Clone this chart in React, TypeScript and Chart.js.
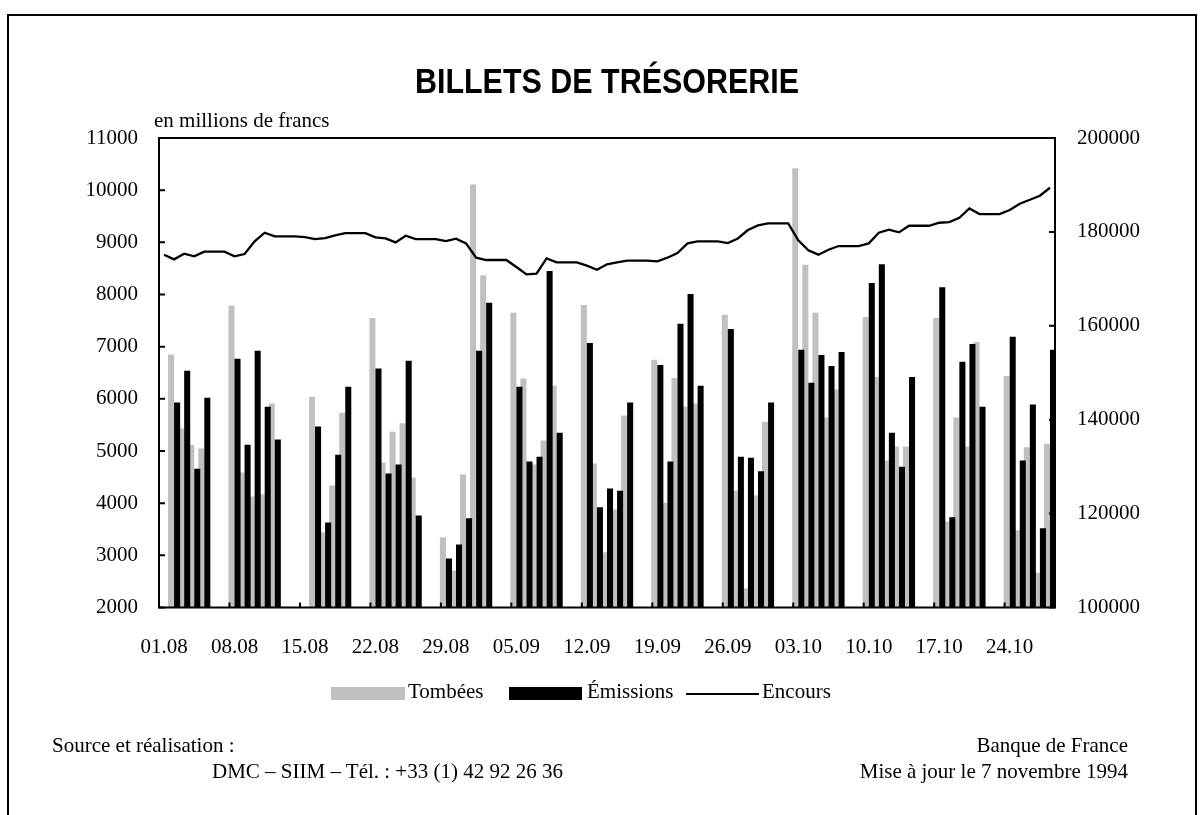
import { useEffect, useRef } from 'react';
import { Chart, registerables } from 'chart.js';

Chart.register(...registerables);

// ---- Data ----
// One entry per calendar day, from 01.08.1994 (Monday) to 28.10.1994.
const TICK_LABELS = ['01.08', '08.08', '15.08', '22.08', '29.08', '05.09', '12.09', '19.09', '26.09', '03.10', '10.10', '17.10', '24.10'];
const DAYS_PER_TICK = 7;

// Tombées (millions de francs), null = no market day
const TOMBEES: (number | null)[] = [
  null, 6850, 5430, 5120, 5050, null, null,
  7790, 4590, 4130, 4170, 5910, null, null,
  null, 6040, 3440, 4340, 5735, null, null,
  7550, 4780, 5370, 5530, 4490, null, null,
  3345, 2710, 4550, 10110, 8370, null, null,
  7650, 6390, 4740, 5200, 6250, null, null,
  7800, 4760, 3060, 3880, 5680, null, null,
  6750, 4010, 6400, 5850, 5910, null, null,
  7610, 4240, 2370, 4150, 5560, null, null,
  10420, 8570, 7650, 5640, 6180, null, null,
  7570, 6420, 4820, 5085, 5085, null, null,
  7550, 3650, 5640, 5085, 7090, null, null,
  6440, 3480, 5070, 2660, 5140,
];

// Émissions (millions de francs)
const EMISSIONS: (number | null)[] = [
  null, 5930, 6540, 4660, 6020, null, null,
  6770, 5120, 6920, 5850, 5220, null, null,
  null, 5470, 3630, 4930, 6230, null, null,
  6580, 4570, 4740, 6730, 3765, null, null,
  2940, 3210, 3710, 6920, 7840, null, null,
  6230, 4800, 4890, 8450, 5350, null, null,
  7070, 3920, 4280, 4240, 5930, null, null,
  6650, 4800, 7440, 8010, 6250, null, null,
  7340, 4890, 4870, 4610, 5930, null, null,
  6940, 6310, 6840, 6630, 6900, null, null,
  8220, 8580, 5350, 4700, 6420, null, null,
  8140, 3730, 6710, 7050, 5850, null, null,
  7190, 4820, 5890, 3520, 6940,
];

// Encours (millions de francs, right axis)
const ENCOURS: number[] = [
  175150, 174150, 175360, 174790, 175790, 175790, 175790,
  174790, 175290, 177980, 179830, 179040, 179040, 179040,
  178900, 178480, 178680, 179250, 179750, 179750, 179750,
  178830, 178610, 177770, 179180, 178480, 178480, 178480,
  178050, 178550, 177560, 174510, 174010, 174010, 174010,
  172520, 170960, 171100, 174360, 173510, 173510, 173510,
  172800, 171950, 173090, 173510, 173870, 173870, 173870,
  173730, 174510, 175500, 177560, 177980, 177980, 177980,
  177630, 178600, 180390, 181380, 181810, 181810, 181810,
  178190, 176070, 175150, 176210, 176990, 176990, 176990,
  177560, 179830, 180460, 179900, 181310, 181310, 181310,
  181950, 182090, 183010, 185000, 183800, 183800, 183800,
  184650, 186000, 186850, 187700, 189400,
];

const LEFT_MIN = 2000, LEFT_MAX = 11000, LEFT_STEP = 1000;
const RIGHT_MIN = 100000, RIGHT_MAX = 200000, RIGHT_STEP = 20000;

// ---- Styles ----
const SERIF = "'Liberation Serif', 'Times New Roman', Times, serif";
const SANS = "'Liberation Sans', Arial, Helvetica, sans-serif";
const GREY = '#c0c0c0';
const W = 1204, H = 815;
const PLOT = { left: 159, right: 1055, top: 138, bottom: 607.5 };

function barPoints(values: (number | null)[], shift: number) {
  const pts: { x: number; y: number }[] = [];
  values.forEach((v, i) => {
    if (v != null) pts.push({ x: i + shift, y: v });
  });
  return pts;
}

const frameAndTicks = {
  id: 'frameAndTicks',
  afterDraw(chart: any) {
    const { ctx, chartArea: a } = chart;
    const xs = chart.scales.x, yl = chart.scales.y, yr = chart.scales.y1;
    ctx.save();
    ctx.strokeStyle = '#000';
    ctx.lineWidth = 2;
    ctx.beginPath();
    yl.ticks.forEach((t: any) => {
      const p = yl.getPixelForValue(t.value);
      ctx.moveTo(a.left, p);
      ctx.lineTo(a.left + 6, p);
    });
    yr.ticks.forEach((t: any) => {
      const p = yr.getPixelForValue(t.value);
      ctx.moveTo(a.right - 6, p);
      ctx.lineTo(a.right, p);
    });
    xs.ticks.forEach((t: any) => {
      if (t.value <= 0) return;
      const p = xs.getPixelForValue(t.value - 0.5);
      ctx.moveTo(p, a.bottom);
      ctx.lineTo(p, a.bottom - 5);
    });
    ctx.stroke();
    ctx.strokeRect(a.left, a.top, a.right - a.left, a.bottom - a.top);
    ctx.restore();
  },
};

const textBase: any = {
  position: 'absolute',
  fontFamily: SERIF,
  fontSize: 21,
  lineHeight: '21px',
  color: '#000',
  whiteSpace: 'nowrap',
};

export default function App() {
  const ref = useRef<HTMLCanvasElement>(null);

  useEffect(() => {
    const canvas = ref.current;
    if (!canvas) return;
    const tickFont = { family: SERIF, size: 21 };
    const chart = new Chart(canvas, {
      type: 'bar',
      data: {
        datasets: [
          {
            type: 'line',
            label: 'Encours',
            data: ENCOURS.map((v, i) => ({ x: i, y: v })),
            borderColor: '#000',
            borderWidth: 2.3,
            pointRadius: 0,
            tension: 0,
            fill: false,
            yAxisID: 'y1',
            xAxisID: 'x',
            order: 0,
          } as any,
          {
            type: 'bar',
            label: 'Émissions',
            data: barPoints(EMISSIONS, 0.3),
            backgroundColor: '#000',
            borderWidth: 0,
            grouped: false,
            categoryPercentage: 1,
            barPercentage: 1.5,
            yAxisID: 'y',
            xAxisID: 'x',
            order: 1,
          } as any,
          {
            type: 'bar',
            label: 'Tombées',
            data: barPoints(TOMBEES, -0.3),
            backgroundColor: GREY,
            borderWidth: 0,
            grouped: false,
            categoryPercentage: 1,
            barPercentage: 1.5,
            yAxisID: 'y',
            xAxisID: 'x',
            order: 2,
          } as any,
        ],
      },
      options: {
        animation: false,
        responsive: false,
        devicePixelRatio: 1,
        events: [],
        layout: { padding: { top: PLOT.top, left: 0, right: 0, bottom: 0 } },
        plugins: {
          legend: { display: false },
          title: { display: false },
          tooltip: { enabled: false },
        },
        scales: {
          x: {
            type: 'linear',
            offset: false,
            min: -0.5,
            max: ENCOURS.length - 0.5,
            grid: { display: false, drawTicks: false, offset: false },
            border: { display: false },
            afterBuildTicks: (s: any) => {
              s.ticks = TICK_LABELS.map((_, k) => ({ value: k * DAYS_PER_TICK }));
            },
            afterFit: (s: any) => {
              s.height = H - PLOT.bottom;
            },
            ticks: {
              autoSkip: false,
              maxRotation: 0,
              padding: 27,
              color: '#000',
              font: tickFont,
              callback: (_v: any, i: number) => TICK_LABELS[i],
            },
          } as any,
          y: {
            type: 'linear',
            position: 'left',
            min: LEFT_MIN,
            max: LEFT_MAX,
            grid: { display: false, drawTicks: false },
            border: { display: false },
            afterFit: (s: any) => {
              s.width = PLOT.left;
            },
            ticks: {
              stepSize: LEFT_STEP,
              padding: 21,
              color: '#000',
              font: tickFont,
              callback: (v: any) => String(v),
            },
          } as any,
          y1: {
            type: 'linear',
            position: 'right',
            min: RIGHT_MIN,
            max: RIGHT_MAX,
            grid: { display: false, drawTicks: false },
            border: { display: false },
            afterFit: (s: any) => {
              s.width = W - PLOT.right;
            },
            ticks: {
              stepSize: RIGHT_STEP,
              padding: 22,
              color: '#000',
              font: tickFont,
              callback: (v: any) => String(v),
            },
          } as any,
        },
      },
      plugins: [frameAndTicks],
    });
    return () => chart.destroy();
  }, []);

  return (
    <div style={{ position: 'absolute', left: 0, top: 0, width: W, height: H, overflow: 'hidden', background: '#fff' }}>
      <div
        style={{
          position: 'absolute',
          left: 7,
          top: 14,
          width: 1190,
          height: 900,
          border: '2px solid #000',
          boxSizing: 'border-box',
        }}
      />
      <canvas ref={ref} width={W} height={H} style={{ position: 'absolute', left: 0, top: 0 }} />
      <div
        style={{
          position: 'absolute',
          left: 607,
          top: 63,
          fontFamily: SANS,
          fontWeight: 'bold',
          fontSize: 35,
          lineHeight: '35px',
          whiteSpace: 'nowrap',
          transform: 'translateX(-50%) scaleX(0.87)',
          transformOrigin: 'center',
        }}
      >
        BILLETS DE TRÉSORERIE
      </div>
      <div style={{ ...textBase, left: 154, top: 110 }}>en millions de francs</div>

      {/* Legend */}
      <div style={{ position: 'absolute', left: 331, top: 687, width: 74, height: 13, background: GREY }} />
      <div style={{ ...textBase, left: 408, top: 681 }}>Tombées</div>
      <div style={{ position: 'absolute', left: 509, top: 687, width: 73, height: 13, background: '#000' }} />
      <div style={{ ...textBase, left: 587, top: 681 }}>Émissions</div>
      <div style={{ position: 'absolute', left: 686, top: 692.5, width: 73, height: 2, background: '#000' }} />
      <div style={{ ...textBase, left: 762, top: 681 }}>Encours</div>

      {/* Footer */}
      <div style={{ ...textBase, left: 52, top: 735 }}>Source et réalisation :</div>
      <div style={{ ...textBase, left: 212, top: 761 }}>DMC – SIIM – Tél. : +33 (1) 42 92 26 36</div>
      <div style={{ ...textBase, right: W - 1128, top: 735, textAlign: 'right' }}>Banque de France</div>
      <div style={{ ...textBase, right: W - 1128, top: 761, textAlign: 'right' }}>Mise à jour le 7 novembre 1994</div>
    </div>
  );
}
